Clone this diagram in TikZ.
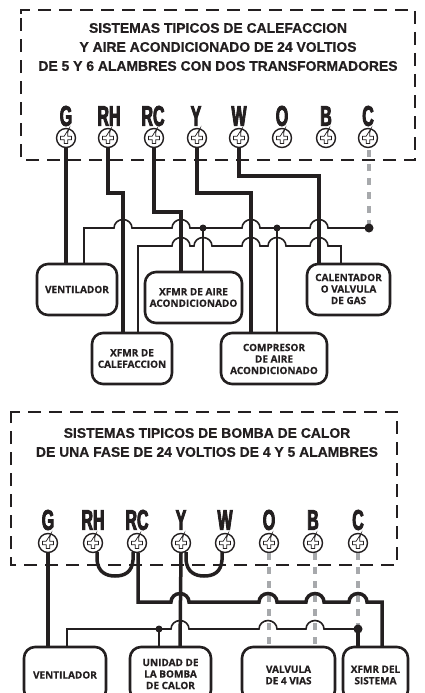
\documentclass[tikz,border=0pt]{standalone}
\usepackage{fontspec}
\setmainfont{Liberation Sans}
\newfontfamily\condfont[FakeStretch=0.56,FakeBold=3]{Liberation Sans}
\newfontfamily\boxfont[FakeBold=0.5]{Open Sans}
\newfontfamily\titlefont[FakeBold=0.6]{Liberation Sans}
\usetikzlibrary{shapes.geometric}
\definecolor{ink}{HTML}{231F20}
\definecolor{dashgray}{HTML}{A7A9AC}
\tikzset{
 x=1pt,y=-1pt,
 frame/.style={draw=ink,line width=2pt,dash pattern=on 13pt off 8pt},
 thick wire/.style={draw=ink,line width=3.5pt,line join=miter},
 thin wire/.style={draw=ink,line width=1.6pt},
 gray wire/.style={draw=dashgray,line width=3.4pt,dash pattern=on 7pt off 7pt},
 device/.style={draw=ink,line width=2.6pt,rounded corners=11pt,fill=white},
 boxtext/.style={font=\fontsize{10}{11.5}\selectfont\boxfont\bfseries,text=ink,align=center,inner sep=0pt},
 title/.style={font=\fontsize{13.9}{19}\selectfont\titlefont\bfseries,text=ink,align=center,inner sep=0pt},
 term/.style={font=\fontsize{28.5}{28.5}\selectfont\condfont\bfseries,text=ink,inner sep=0pt,anchor=center},
 dot/.style={circle,fill=ink,inner sep=0pt,minimum size=#1},
 screw/.style={circle,draw=ink,line width=1.4pt,fill=white,minimum size=19pt,inner sep=0pt},
}
\newcommand{\screwcross}[1]{%
 \draw[ink,line width=.7pt,fill=white] ([shift={(-1.8,-5.5)}]#1) -- ++(3.6,0) -- ++(0,3.7) -- ++(3.7,0) -- ++(0,3.6) -- ++(-3.7,0) -- ++(0,3.7) -- ++(-3.6,0) -- ++(0,-3.7) -- ++(-3.7,0) -- ++(0,-3.6) -- ++(3.7,0) -- cycle;}
\newcommand{\hop}[2]{-- (#1-9,#2) arc[start angle=180,end angle=0,x radius=9,y radius=-8.5]}
\begin{document}
\begin{tikzpicture}
\useasboundingbox (0,0) rectangle (424,693);
\fill[white] (0,0) rectangle (424,693);
% ---------- top diagram ----------
\draw[frame] (21,14) -- (21,10) -- (415,10) -- (415,160) -- (21,160) -- cycle;
\node[title] (t1) at (218,47) {SISTEMAS TIPICOS DE CALEFACCION\\Y AIRE ACONDICIONADO DE 24 VOLTIOS\\DE 5 Y 6 ALAMBRES CON DOS TRANSFORMADORES};
\foreach \n/\t/\x in {g/G/66,rh/RH/109,rc/RC/153,y/Y/196,w/W/239,o/O/282,b/B/326,c/C/368}{
 \node[term] (l\n) at (\x,116) {\t};
}
% devices
\node[device,minimum width=80pt,minimum height=51pt] (vent) at (77,289.5) {};
\node[boxtext] (ventt) at (vent) {VENTILADOR};
\node[device,minimum width=80pt,minimum height=51pt] (cal) at (132,358.5) {};
\node[boxtext] (calt) at (cal) {XFMR DE\\CALEFACCION};
\node[device,minimum width=97pt,minimum height=51pt] (xa) at (193.5,297.5) {};
\node[boxtext] (xat) at (xa) {XFMR DE AIRE\\ACONDICIONADO};
\node[device,minimum width=106pt,minimum height=51pt] (comp) at (274,358.5) {};
\node[boxtext] (compt) at (274,359) {COMPRESOR\\DE AIRE\\ACONDICIONADO};
\node[device,minimum width=83pt,minimum height=51pt] (gas) at (348.5,289.5) {};
\node[boxtext] (gast) at (348.5,289) {CALENTADOR\\O VALVULA\\DE GAS};
% gray
\foreach \n/\x in {g/66,rh/108,rc/154,y/197,w/239,o/282,b/326,c/368}{
 \node[screw] (s\n) at (\x,138) {};
 \screwcross{s\n}
}
\draw[gray wire] (sc.south) ++(1,2) -- (369,228);
% thin bus wires
\draw[thin wire] (84,264) -- (84,228) \hop{123}{228} \hop{181}{228} \hop{251}{228} \hop{319}{228} -- (369,228);
\draw[thin wire] (138,333) -- (138,246) \hop{181}{246} \hop{203}{246} \hop{251}{246} \hop{277}{246} \hop{319}{246} -- (341,246) -- (341,264);
\draw[thin wire] (203,228) -- (203,272);
\draw[thin wire] (277,228) -- (277,333);
\node[dot=7pt] (d1) at (203,228) {};
\node[dot=7pt] (d2) at (277,228) {};
\node[dot=9pt] (d3) at (369,228) {};
% thick wires
\draw[thick wire] (sg.south) -- (66,264);
\draw[thick wire] (srh.south) -- (108,193) -- (123,193) -- (123,333);
\draw[thick wire] (src.south) -- (154,212) -- (181,212) -- (181,272);
\draw[thick wire] (sy.south) -- (197,193) -- (251,193) -- (251,333);
\draw[thick wire] (sw.south) -- (239,176) -- (319,176) -- (319,264);
% ---------- bottom diagram ----------
\draw[frame] (11,416) -- (11,412) -- (397,412) -- (397,565) -- (11,565) -- cycle;
\node[title] (t2) at (207,442.5) {SISTEMAS TIPICOS DE BOMBA DE CALOR\\DE UNA FASE DE 24 VOLTIOS DE 4 Y 5 ALAMBRES};
\foreach \n/\t/\x in {g/G/48,rh/RH/93,rc/RC/137,y/Y/181,w/W/225,o/O/269,b/B/313,c/C/358}{
 \node[term] (m\n) at (\x,520) {\t};
}
\node[device,minimum width=82pt,minimum height=54pt] (v2) at (65,674) {};
\node[boxtext] (v2t) at (65,675) {VENTILADOR};
\node[device,minimum width=81pt,minimum height=54pt] (u2) at (170.5,674) {};
\node[boxtext] (u2t) at (170.5,674) {UNIDAD DE\\LA BOMBA\\DE CALOR};
\node[device,minimum width=93pt,minimum height=54pt] (val) at (288.5,674) {};
\node[boxtext] (valt) at (288.5,675) {VALVULA\\DE 4 VIAS};
\node[device,minimum width=65pt,minimum height=54pt] (xs) at (375.5,674) {};
\node[boxtext] (xst) at (375.5,675) {XFMR DEL\\SISTEMA};
\foreach \n/\x in {g/48,rh/93,rc/137,y/181,w/225,o/269,b/313,c/358}{
 \node[screw] (q\n) at (\x,543) {};
 \screwcross{q\n}
}
\draw[gray wire] (269,553) -- (269,647);
\draw[gray wire] (315,553) -- (315,647);
\draw[gray wire] (358,553) -- (358,629);
\draw[thin wire] (67,647) -- (67,629) \hop{180}{629} \hop{268}{629} \hop{315}{629} -- (358,629);
\draw[thin wire] (159,629) -- (159,647);
\node[dot=7pt] (d4) at (159,629) {};
\node[dot=9pt] (d5) at (358,629) {};
\draw[thick wire] (358,629) -- (358,647);
\draw[thick wire] (qg.south) -- (48,647);
\draw[thick wire] (qy.south) -- (180,647);
\draw[thick wire] (138,553) -- (138,602) \hop{180}{602} \hop{268}{602} \hop{315}{602} \hop{358}{602} -- (382,602) -- (382,647);
\draw[thick wire] (97,552) -- (97,560) .. controls (98,572) and (106,576) .. (115,576) .. controls (125,576) and (132,572) .. (133,560) -- (133,552);
\draw[thick wire] (186,552) -- (186,560) .. controls (187,572) and (195,576) .. (204,576) .. controls (214,576) and (221,572) .. (222,560) -- (222,552);
\end{tikzpicture}
\end{document}
